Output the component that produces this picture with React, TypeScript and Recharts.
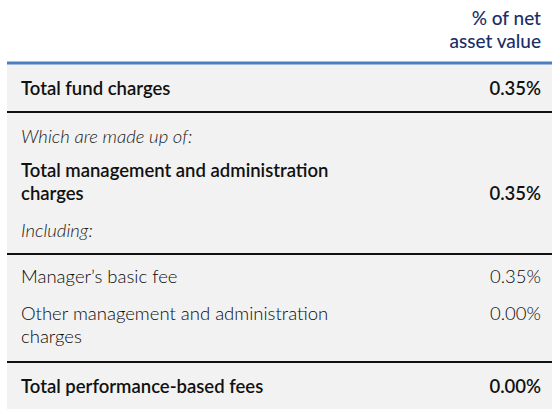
import React from 'react';
import { ComposedChart, XAxis, YAxis, Scatter, ReferenceArea, ReferenceLine } from 'recharts';

// ---- content ----
const headerLines = ['% of net', 'asset value'];
const rowLabels: string[][] = [
  ['Total fund charges'],
  ['Which are made up of:'],
  ['Total management and administration', 'charges'],
  ['Including:'],
  ['Manager\u2019s basic fee'],
  ['Other management and administration', 'charges'],
  ['Total performance-based fees'],
];
const rowValues = ['0.35%', '', '0.35%', '', '0.35%', '0.00%', '0.00%'];
const rowKinds = ['total', 'note', 'total', 'note', 'item', 'item', 'total'];

// ---- layout (chart units = px) ----
const W = 560;
const H = 414;
const LEFT = 7;
const RIGHT = 552;
const TEXT_X = 21;
const VALUE_X = 541;
const LINE_H = 23;
const HEADER_Y = [17, 40];
const ROW_Y = [88, 136, 170, 230, 276, 313, 386];
const TABLE_TOP = 63;
const TABLE_BOTTOM = 409;
const SEPARATOR_AFTER = [0, 3, 5];
const SEP_Y = [112, 254, 362];

const FONT = 'Lato, "Open Sans", sans-serif';

type Pt = { x: number; y: number; text: string; style: string; anchor: string };

const points: Pt[] = [];
headerLines.forEach((t, i) => points.push({ x: VALUE_X, y: HEADER_Y[i], text: t, style: 'header', anchor: 'end' }));
rowLabels.forEach((lines, r) => {
  lines.forEach((t, i) => points.push({ x: TEXT_X, y: ROW_Y[r] + i * LINE_H, text: t, style: rowKinds[r], anchor: 'start' }));
  if (rowValues[r]) {
    const line = rowKinds[r] === 'total' ? lines.length - 1 : 0;
    points.push({ x: VALUE_X, y: ROW_Y[r] + line * LINE_H, text: rowValues[r], style: rowKinds[r] === 'item' ? 'itemValue' : 'totalValue', anchor: 'end' });
  }
});

const styles: Record<string, any> = {
  header: { fill: '#1b2f66', fontSize: 19, fontWeight: 500 },
  total: { fill: '#111111', fontSize: 18.5, fontWeight: 600 },
  totalValue: { fill: '#111111', fontSize: 18.5, fontWeight: 600 },
  note: { fill: '#1a1a1a', fontSize: 18.5, fontWeight: 300, fontStyle: 'italic' },
  item: { fill: '#0a0a0a', fontSize: 18.5, fontWeight: 300 },
  itemValue: { fill: '#0a0a0a', fontSize: 18.5, fontWeight: 300 },
};

const TextShape = (props: any) => {
  const { cx, cy, payload } = props;
  const s = styles[payload.style];
  return (
    <text x={cx} y={cy} textAnchor={payload.anchor} dominantBaseline="central" fontFamily={FONT} {...s}>
      {payload.text}
    </text>
  );
};

export default function App() {
  return (
    <div style={{ position: 'absolute', left: 0, top: 0, width: W, height: H, background: '#ffffff' }}>
      <ComposedChart width={W} height={H} margin={{ top: 0, right: 0, bottom: 0, left: 0 }}>
        <XAxis type="number" dataKey="x" domain={[0, W]} hide />
        <YAxis type="number" dataKey="y" domain={[0, H]} reversed hide />
        <ReferenceArea x1={LEFT} x2={RIGHT} y1={TABLE_TOP} y2={TABLE_BOTTOM} fill="#f2f2f2" fillOpacity={1} stroke="none" />
        <ReferenceLine segment={[{ x: LEFT, y: TABLE_TOP }, { x: RIGHT, y: TABLE_TOP }]} stroke="#4a7fc1" strokeWidth={3} />
        {SEPARATOR_AFTER.map((r, i) => (
          <ReferenceLine key={r} segment={[{ x: LEFT, y: SEP_Y[i] }, { x: RIGHT, y: SEP_Y[i] }]} stroke="#111111" strokeWidth={2} />
        ))}
        <Scatter data={points} isAnimationActive={false} shape={<TextShape />} />
      </ComposedChart>
    </div>
  );
}
